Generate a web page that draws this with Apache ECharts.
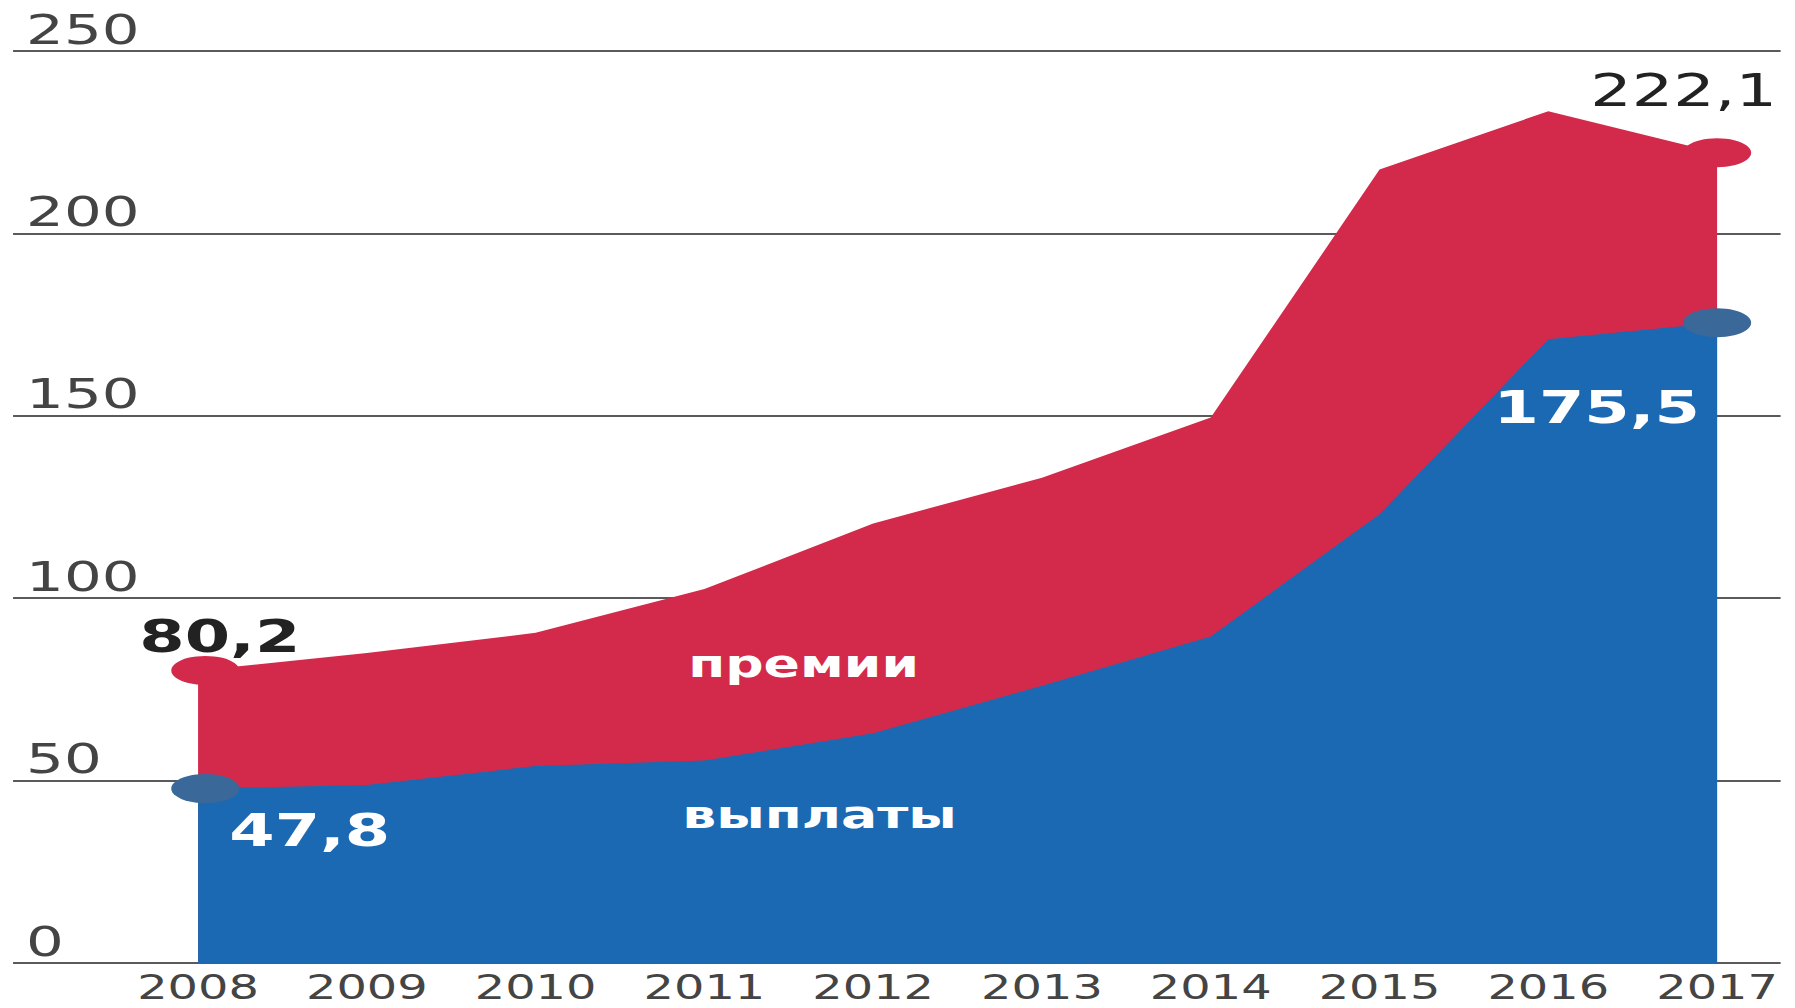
<!DOCTYPE html>
<html>
<head>
<meta charset="utf-8">
<script src="https://cdn.jsdelivr.net/npm/echarts@6/dist/echarts.min.js"></script>
<style>
  html, body { margin: 0; padding: 0; background: #fff; overflow: hidden; }
  /* the source graphic is stretched horizontally, so the chart is drawn narrow and scaled */
  #chart {
    width: 1238px;
    height: 1008px;
    transform: scaleX(1.45);
    transform-origin: 0 0;
  }
</style>
</head>
<body>
<div id="chart"></div>
<script>
var years = ['2008', '2009', '2010', '2011', '2012', '2013', '2014', '2015', '2016', '2017'];
// премии (total, red) and выплаты (blue), bln rub
var premiums = [80.2, 85.0, 90.5, 102.5, 120.5, 133.0, 149.5, 217.5, 233.5, 222.1];
var payouts  = [47.8, 48.8, 54.0, 55.5, 63.0, 76.0, 89.5, 123.0, 171.0, 175.5];
var yTicks = [0, 50, 100, 150, 200, 250];

var RED = '#D32A4B';
var BLUE = '#1B69B2';
var last = years.length - 1;

function fmt (v) {
  return String(v).replace('.', ',');
}

// only first and last points get a marker and a value label
function buildData (values, opts) {
  return values.map(function (v, i) {
    if (i === 0 || i === last) {
      var o = i === 0 ? opts.first : opts.last;
      return {
        value: v,
        symbol: 'circle',
        symbolSize: [47, 29],
        symbolOffset: i === 0 ? [5, 0] : [0, 0],
        itemStyle: { color: opts.marker },
        label: {
          show: true,
          position: 'inside',
          offset: o.offset,
          formatter: fmt(v),
          color: opts.labelColor,
          fontSize: 45,
          fontWeight: o.weight,
          fontFamily: 'DejaVu Sans'
        }
      };
    }
    return { value: v, symbolSize: 0 };
  });
}

var chart = echarts.init(document.getElementById('chart'), null, { renderer: 'svg' });

var option = {
  animation: false,
  backgroundColor: '#fff',
  grid: [
    { left: 9, right: 10, top: 51, bottom: 45 },      // gridlines across the whole width
    { left: 136.6, right: 53.8, top: 51, bottom: 45 } // data area
  ],
  xAxis: [
    { gridIndex: 0, type: 'value', min: 0, max: 1, show: false },
    {
      gridIndex: 1,
      type: 'category',
      boundaryGap: false,
      data: years,
      axisLine: { show: false },
      axisTick: { show: false },
      axisLabel: {
        interval: 0,
        margin: 8,
        color: '#444',
        fontSize: 33,
        fontFamily: 'DejaVu Sans'
      }
    }
  ],
  yAxis: [
    {
      gridIndex: 0,
      type: 'value',
      min: yTicks[0],
      max: yTicks[yTicks.length - 1],
      interval: 50,
      axisLine: { show: false },
      axisTick: { show: false },
      axisLabel: {
        inside: true,
        margin: 9,
        align: 'left',
        verticalAlign: 'bottom',
        padding: [0, 0, 1, 0],
        color: '#444',
        fontSize: 41,
        fontFamily: 'DejaVu Sans'
      },
      splitLine: { lineStyle: { color: '#5a5a5a', width: 2 } }
    },
    { gridIndex: 1, type: 'value', min: 0, max: 250, show: false }
  ],
  series: [
    {
      name: 'премии',
      type: 'line',
      xAxisIndex: 1,
      yAxisIndex: 1,
      z: 2,
      smooth: false,
      showAllSymbol: true,
      lineStyle: { width: 0 },
      areaStyle: { color: RED, opacity: 1 },
      itemStyle: { color: RED },
      data: buildData(premiums, {
        marker: RED,
        labelColor: '#222',
        first: { offset: [10, -34], weight: 'bold' },
        last: { offset: [-23, -62], weight: 'normal' }
      }),
      markPoint: {
        symbolSize: 0,
        data: [{ coord: ['2012', 82] }],
        label: {
          show: true,
          position: 'inside',
          offset: [-48, 0],
          formatter: 'премии',
          color: '#fff',
          fontSize: 37,
          fontWeight: 'bold',
          fontFamily: 'DejaVu Sans'
        }
      }
    },
    {
      name: 'выплаты',
      type: 'line',
      xAxisIndex: 1,
      yAxisIndex: 1,
      z: 3,
      smooth: false,
      showAllSymbol: true,
      lineStyle: { width: 0 },
      areaStyle: { color: BLUE, opacity: 1 },
      itemStyle: { color: BLUE },
      data: buildData(payouts, {
        marker: '#3A6899',
        labelColor: '#fff',
        first: { offset: [72, 42], weight: 'bold' },
        last: { offset: [-83, 85], weight: 'bold' }
      }),
      markPoint: {
        symbolSize: 0,
        data: [{ coord: ['2012', 40.6] }],
        label: {
          show: true,
          position: 'inside',
          offset: [-37, 0],
          formatter: 'выплаты',
          color: '#fff',
          fontSize: 37,
          fontWeight: 'bold',
          fontFamily: 'DejaVu Sans'
        }
      }
    }
  ]
};

chart.setOption(option);
</script>
</body>
</html>
